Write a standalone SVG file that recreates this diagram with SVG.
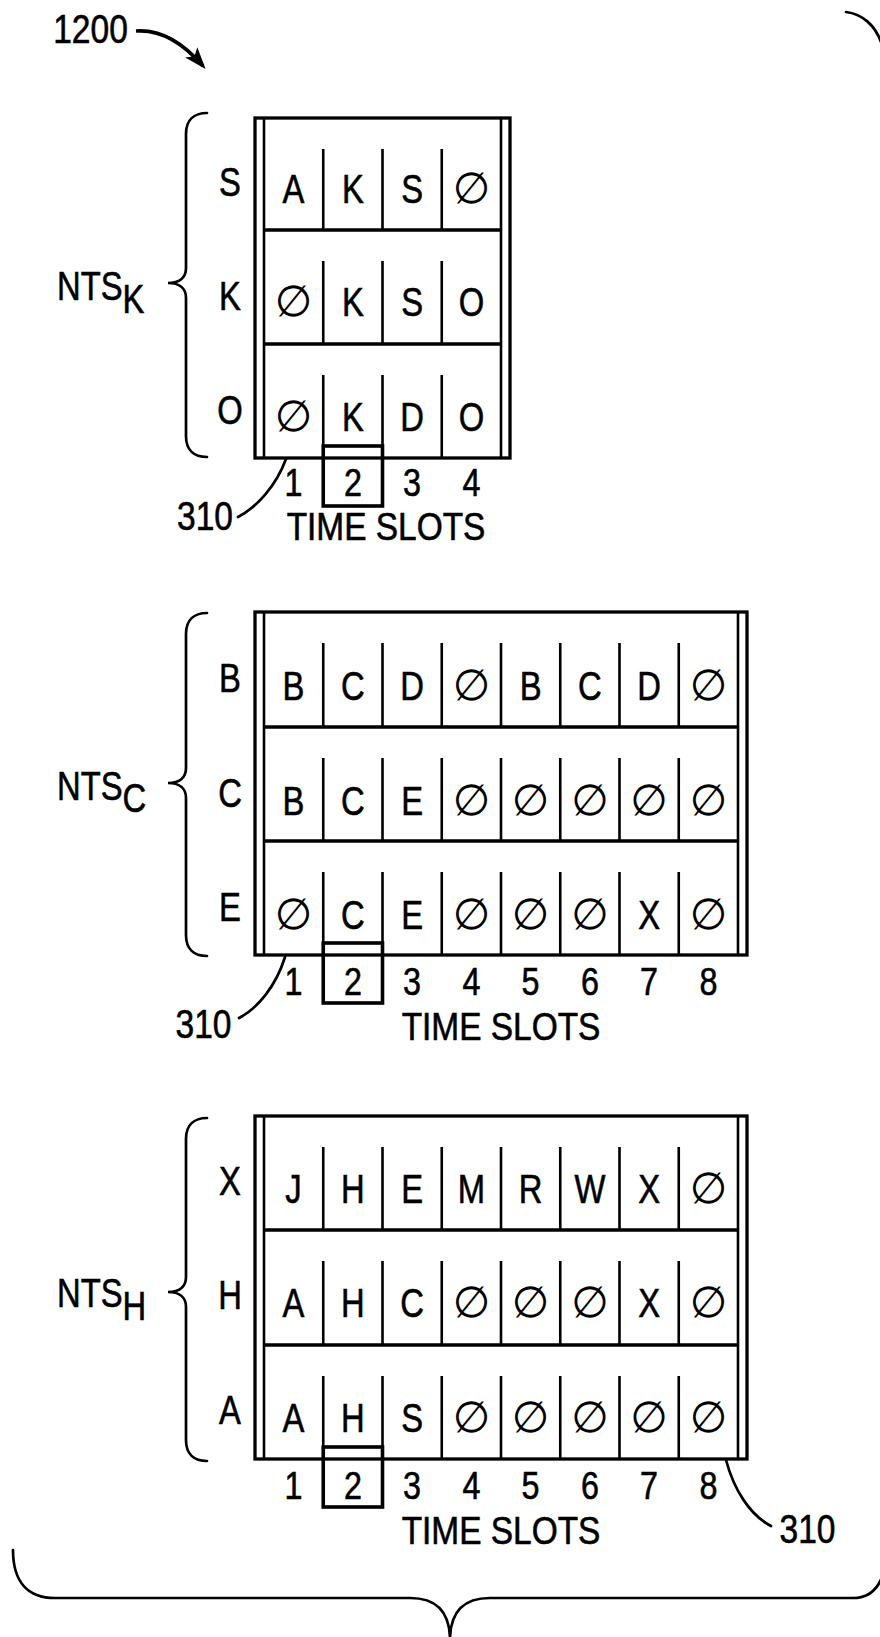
<svg xmlns="http://www.w3.org/2000/svg" width="880" height="1637" viewBox="0 0 880 1637">
<style>
.t{font-family:"Liberation Sans",Arial,sans-serif;font-size:40px;fill:#000;stroke:#000;stroke-width:0.6;text-anchor:middle}
.n{font-size:38px}
.s{text-anchor:start}
.e{font-family:"DejaVu Sans",sans-serif;font-size:43px;fill:#000;stroke:none;text-anchor:middle}
.ln{stroke:#000;fill:none;stroke-width:2.6}
.th{stroke-width:3.3}
.box{stroke:#000;fill:none;stroke-width:3.6}
.br{stroke:#000;fill:none;stroke-width:2.7;stroke-linecap:round}
</style>
<defs>
<marker id="ah" markerUnits="userSpaceOnUse" markerWidth="22" markerHeight="18" viewBox="0 0 22 18" refX="18" refY="9" orient="auto">
<path d="M0,1 L22,9 L0,17 L5,9 Z" fill="#000"/>
</marker>
</defs>
<rect width="880" height="1637" fill="#fff"/>

<g id="label-1200">
<text class="t" transform="translate(90.5,43) scale(.84,1)">1200</text>
</g>

<g id="outer-brace">
<path class="br" d="M846,12 C862,14 875,25 881,42"/>
<path class="br" d="M13,1550 C13,1582 28,1598 55,1598 L410,1598 C436,1598 449,1612 450,1637 C451,1612 464,1598 490,1598 L853,1598 C872,1598 884,1585 887,1555"/>
</g>

<!-- NTS K -->
<g id="nts-k">
<path class="br" d="M207,113 C194,113 186,120 186,134 L186,268 C186,277 180,283 168,283 C180,283 186,289 186,298 L186,436 C186,450 194,457 207,457"/>
<text class="t s" transform="translate(57,300) scale(.82,1)">NTS<tspan dy="13">K</tspan></text>
<rect class="ln th" x="255" y="118" width="255" height="340"/>
<path class="ln" d="M264,118V458M501,118V458"/>
<path class="ln th" d="M264,230H501M264,344H501"/>
<path class="ln" d="M323.25,149V230M382.5,149V230M441.75,149V230M323.25,261V344M382.5,261V344M441.75,261V344M323.25,375V458M382.5,375V458M441.75,375V458"/>
<rect class="box" x="323.25" y="446" width="59.25" height="60"/>
<g class="t" transform="translate(0,196) scale(.82,1)"><text x="280.5">S</text></g>
<g class="t" transform="translate(0,310) scale(.82,1)"><text x="280.5">K</text></g>
<g class="t" transform="translate(0,424) scale(.82,1)"><text x="280.5">O</text></g>
<g class="t" transform="translate(0,203) scale(.82,1)"><text x="358">A</text><text x="430.4">K</text><text x="502.6">S</text></g>
<g class="e" transform="translate(0,203)"><text x="471.4">∅</text></g>
<g class="t" transform="translate(0,316) scale(.82,1)"><text x="430.4">K</text><text x="502.6">S</text><text x="574.9">O</text></g>
<g class="e" transform="translate(0,316)"><text x="293.6">∅</text></g>
<g class="t" transform="translate(0,431) scale(.82,1)"><text x="430.4">K</text><text x="502.6">D</text><text x="574.9">O</text></g>
<g class="e" transform="translate(0,431)"><text x="293.6">∅</text></g>
<g class="t n" transform="translate(0,496) scale(.85,1)"><text x="345.4">1</text><text x="415.2">2</text><text x="484.8">3</text><text x="554.6">4</text></g>
<text class="t n" transform="translate(386,540) scale(.88,1)">TIME SLOTS</text>
<text class="t" transform="translate(205,530) scale(.84,1)">310</text>
</g>

<!-- NTS C -->
<g id="nts-c">
<path class="br" d="M207,613 C194,613 186,620 186,634 L186,768 C186,777 180,783 168,783 C180,783 186,789 186,798 L186,935 C186,949 194,956 207,956"/>
<text class="t s" transform="translate(57,800) scale(.82,1)">NTS<tspan dy="12">C</tspan></text>
<rect class="ln th" x="255" y="612" width="492" height="343"/>
<path class="ln" d="M264,612V955M738,612V955"/>
<path class="ln th" d="M264,727H738M264,841H738"/>
<path class="ln" d="M323.25,643V727M382.5,643V727M441.75,643V727M501,643V727M560.25,643V727M619.5,643V727M678.75,643V727M323.25,758V841M382.5,758V841M441.75,758V841M501,758V841M560.25,758V841M619.5,758V841M678.75,758V841M323.25,872V955M382.5,872V955M441.75,872V955M501,872V955M560.25,872V955M619.5,872V955M678.75,872V955"/>
<rect class="box" x="323.25" y="943" width="59.25" height="60"/>
<g class="t" transform="translate(0,692) scale(.82,1)"><text x="280.5">B</text></g>
<g class="t" transform="translate(0,807) scale(.82,1)"><text x="280.5">C</text></g>
<g class="t" transform="translate(0,921) scale(.82,1)"><text x="280.5">E</text></g>
<g class="t" transform="translate(0,700) scale(.82,1)"><text x="358">B</text><text x="430.4">C</text><text x="502.6">D</text><text x="647.1">B</text><text x="719.4">C</text><text x="791.6">D</text></g>
<g class="e" transform="translate(0,700)"><text x="471.4">∅</text><text x="708.4">∅</text></g>
<g class="t" transform="translate(0,815) scale(.82,1)"><text x="358">B</text><text x="430.4">C</text><text x="502.6">E</text></g>
<g class="e" transform="translate(0,815)"><text x="471.4">∅</text><text x="530.6">∅</text><text x="589.9">∅</text><text x="649.1">∅</text><text x="708.4">∅</text></g>
<g class="t" transform="translate(0,929) scale(.82,1)"><text x="430.4">C</text><text x="502.6">E</text><text x="791.6">X</text></g>
<g class="e" transform="translate(0,929)"><text x="293.6">∅</text><text x="471.4">∅</text><text x="530.6">∅</text><text x="589.9">∅</text><text x="708.4">∅</text></g>
<g class="t n" transform="translate(0,995) scale(.85,1)"><text x="345.4">1</text><text x="415.2">2</text><text x="484.8">3</text><text x="554.6">4</text><text x="624.2">5</text><text x="694">6</text><text x="763.6">7</text><text x="833.4">8</text></g>
<text class="t n" transform="translate(501,1040) scale(.88,1)">TIME SLOTS</text>
<text class="t" transform="translate(203.5,1038) scale(.84,1)">310</text>
</g>

<!-- NTS H -->
<g id="nts-h">
<path class="br" d="M207,1118 C194,1118 186,1125 186,1139 L186,1277 C186,1286 180,1292 168,1292 C180,1292 186,1298 186,1307 L186,1440 C186,1454 194,1461 207,1461"/>
<text class="t s" transform="translate(57,1307) scale(.82,1)">NTS<tspan dy="13">H</tspan></text>
<rect class="ln th" x="255" y="1116" width="492" height="343"/>
<path class="ln" d="M264,1116V1459M738,1116V1459"/>
<path class="ln th" d="M264,1230H738M264,1345H738"/>
<path class="ln" d="M323.25,1147V1230M382.5,1147V1230M441.75,1147V1230M501,1147V1230M560.25,1147V1230M619.5,1147V1230M678.75,1147V1230M323.25,1261V1345M382.5,1261V1345M441.75,1261V1345M501,1261V1345M560.25,1261V1345M619.5,1261V1345M678.75,1261V1345M323.25,1376V1459M382.5,1376V1459M441.75,1376V1459M501,1376V1459M560.25,1376V1459M619.5,1376V1459M678.75,1376V1459"/>
<rect class="box" x="323.25" y="1447" width="59.25" height="60"/>
<g class="t" transform="translate(0,1195) scale(.82,1)"><text x="280.5">X</text></g>
<g class="t" transform="translate(0,1309) scale(.82,1)"><text x="280.5">H</text></g>
<g class="t" transform="translate(0,1424) scale(.82,1)"><text x="280.5">A</text></g>
<g class="t" transform="translate(0,1203) scale(.82,1)"><text x="358">J</text><text x="430.4">H</text><text x="502.6">E</text><text x="574.9">M</text><text x="647.1">R</text><text x="719.4">W</text><text x="791.6">X</text></g>
<g class="e" transform="translate(0,1203)"><text x="708.4">∅</text></g>
<g class="t" transform="translate(0,1317) scale(.82,1)"><text x="358">A</text><text x="430.4">H</text><text x="502.6">C</text><text x="791.6">X</text></g>
<g class="e" transform="translate(0,1317)"><text x="471.4">∅</text><text x="530.6">∅</text><text x="589.9">∅</text><text x="708.4">∅</text></g>
<g class="t" transform="translate(0,1432) scale(.82,1)"><text x="358">A</text><text x="430.4">H</text><text x="502.6">S</text></g>
<g class="e" transform="translate(0,1432)"><text x="471.4">∅</text><text x="530.6">∅</text><text x="589.9">∅</text><text x="649.1">∅</text><text x="708.4">∅</text></g>
<g class="t n" transform="translate(0,1499) scale(.85,1)"><text x="345.4">1</text><text x="415.2">2</text><text x="484.8">3</text><text x="554.6">4</text><text x="624.2">5</text><text x="694">6</text><text x="763.6">7</text><text x="833.4">8</text></g>
<text class="t n" transform="translate(501,1544) scale(.88,1)">TIME SLOTS</text>
<text class="t" transform="translate(807.5,1543) scale(.84,1)">310</text>
</g>

<g id="connectors">
<path d="M136,31 C162,29 184,44 203,66" stroke="#000" stroke-width="3.6" fill="none" marker-end="url(#ah)"/>
<path class="br" d="M238,517 C257,507 276,486 286,459"/>
<path class="br" d="M239,1018 C258,1008 276,986 285,957"/>
<path class="br" d="M726,1460 C734,1490 750,1515 771,1526"/>
</g>
</svg>
